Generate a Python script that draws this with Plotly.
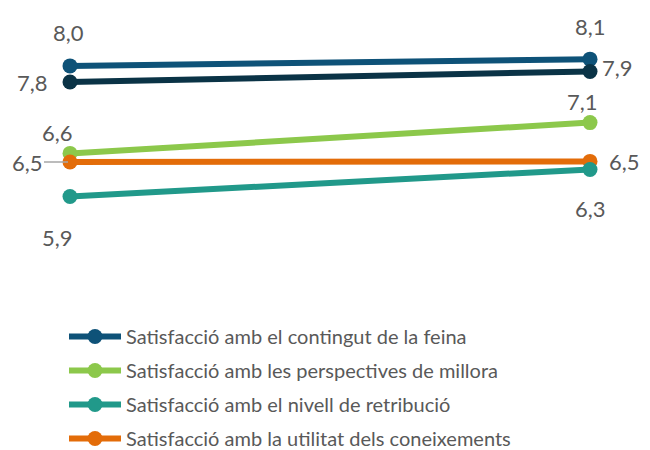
import plotly.graph_objects as go

periods = ["Inici", "Final"]
series_names = [
    "Satisfacció amb el contingut de la feina",
    "Satisfacció general",
    "Satisfacció amb les perspectives de millora",
    "Satisfacció amb la utilitat dels coneixements",
    "Satisfacció amb el nivell de retribució",
]
contingut = [8.02, 8.13]
general = [7.76, 7.93]
perspectives = [6.60, 7.10]
utilitat = [6.46, 6.47]
retribucio = [5.90, 6.34]

values = [contingut, general, perspectives, utilitat, retribucio]
colors = ["#0e5278", "#0a3346", "#8cc84b", "#e36c09", "#21998a"]
in_legend = [True, False, True, True, True]
legend_rank = [1, 5, 2, 4, 3]

# label placement per series and point: (xanchor, yanchor, xshift, yshift, arrow)
label_pos = [
    [("center", "middle", -2, 33, False), ("center", "middle", 0, 33, False)],
    [("right", "middle", -20, -1, False), ("left", "middle", 10, 4, False)],
    [("center", "middle", -13, 21, False), ("center", "middle", -8, 21, False)],
    [("right", "middle", -27, 0, True), ("left", "middle", 17, 0, False)],
    [("center", "middle", -13, -41, False), ("center", "middle", 0, -39, False)],
]

xs = [0, 1]
fig = go.Figure()
for name, vals, col, show, rank in zip(series_names, values, colors, in_legend, legend_rank):
    fig.add_trace(go.Scatter(
        x=xs, y=vals, name=name, mode="lines+markers",
        line=dict(color=col, width=6),
        marker=dict(color=col, size=15),
        showlegend=show, legendrank=rank, legendgroup=name,
        cliponaxis=False, hoverinfo="skip",
    ))

font_fam = "Lato, Open Sans, sans-serif"
annotations = []
for vals, poss in zip(values, label_pos):
    for x, v, (xa, ya, xsft, ysft, arrow) in zip(xs, vals, poss):
        txt = f"{v:.1f}".replace(".", ",")
        if arrow:
            annotations.append(dict(
                x=x, y=v, xref="x", yref="y", text=txt, showarrow=True,
                arrowhead=0, arrowwidth=1.5, arrowcolor="#a6a6a6",
                ax=-43, ay=0, standoff=2,
                font=dict(size=22, color="#595959", family=font_fam),
            ))
        else:
            annotations.append(dict(
                x=x, y=v, xref="x", yref="y", text=txt, showarrow=False,
                xanchor=xa, yanchor=ya, xshift=xsft, yshift=ysft,
                font=dict(size=22, color="#595959", family=font_fam),
            ))

W, H = 642, 442
fig.update_layout(
    width=W, height=H,
    margin=dict(l=62, r=60, t=4, b=197.5, autoexpand=False),
    paper_bgcolor="white", plot_bgcolor="white",
    showlegend=True,
    xaxis=dict(range=[0, 1], visible=False, fixedrange=True),
    yaxis=dict(range=[5.0, 8.895], visible=False, fixedrange=True),
    annotations=annotations,
    legend=dict(
        orientation="v", x=56 / W, xref="container", xanchor="left",
        y=1 - 309 / H, yref="container", yanchor="top",
        font=dict(size=20, color="#595959", family=font_fam),
        tracegroupgap=5, itemwidth=52, bgcolor="rgba(0,0,0,0)",
    ),
)
fig.write_html("out.html")
